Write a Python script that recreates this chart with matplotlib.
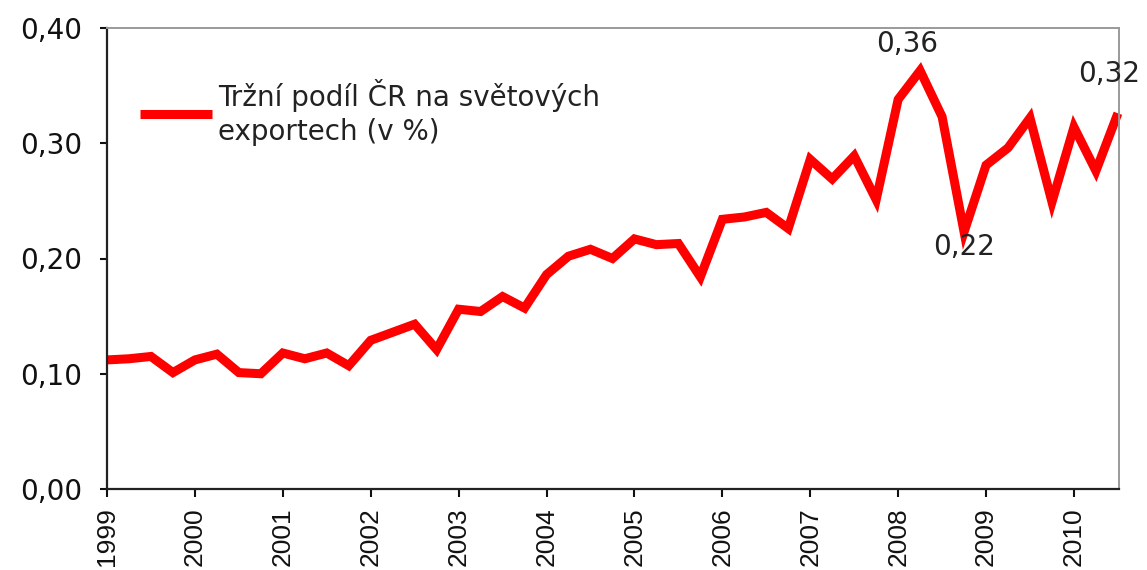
import matplotlib
matplotlib.use("Agg")
import matplotlib.pyplot as plt

# quarterly market share of CZ in world exports (%), 1999Q1 - 2010Q3
share = [0.112, 0.113, 0.115, 0.101, 0.112, 0.117, 0.101, 0.100,
         0.118, 0.113, 0.118, 0.107, 0.129, 0.136, 0.143, 0.121,
         0.156, 0.154, 0.167, 0.157, 0.186, 0.202, 0.208, 0.200,
         0.217, 0.212, 0.213, 0.184, 0.234, 0.236, 0.240, 0.226,
         0.286, 0.269, 0.289, 0.251, 0.338, 0.363, 0.323, 0.223,
         0.281, 0.296, 0.322, 0.249, 0.314, 0.276, 0.326]
years = ["1999", "2000", "2001", "2002", "2003", "2004",
         "2005", "2006", "2007", "2008", "2009", "2010"]
y_ticks = [0.0, 0.1, 0.2, 0.3, 0.4]
y_labels = ["0,00", "0,10", "0,20", "0,30", "0,40"]
series_name = "Tržní podíl ČR na světových\nexportech (v %)"

# labelled points: (index, text, offset in points)
labels = [(37, "0,36", (-9, 19)), (39, "0,22", (0, -11)), (46, "0,32", (-6, 28))]

plt.rcParams["font.family"] = ["DejaVu Sans"]
fs = 20

fig = plt.figure(figsize=(11.47, 5.70), dpi=100)
ax = fig.add_axes([107 / 1147, 1 - 489 / 570, 1012 / 1147, 461 / 570])

x = list(range(len(share)))
ax.plot(x, share, color="#ff0000", lw=6.5, solid_joinstyle="miter",
        solid_capstyle="butt", label=series_name, clip_on=False)

for i, txt, off in labels:
    ax.annotate(txt, (x[i], share[i]), xytext=off, textcoords="offset points",
                ha="center", va="center", fontsize=fs, color="#222222",
                annotation_clip=False)

ax.set_xlim(0, 46.05)
ax.set_ylim(0, 0.4)
ax.set_xticks(range(0, 4 * len(years), 4))
ax.set_xticklabels(years, rotation=90, fontsize=19, family="Liberation Sans")
ax.set_yticks(y_ticks)
ax.set_yticklabels(y_labels, fontsize=fs)
ax.tick_params(axis="x", length=6, width=1.5, pad=7, colors="#111111")
ax.tick_params(axis="y", length=5, width=1.5, pad=13, colors="#111111")

for s in ["left", "bottom"]:
    ax.spines[s].set_color("#222222")
    ax.spines[s].set_linewidth(1.6)
for s in ["top", "right"]:
    ax.spines[s].set_color("#9a9a9a")
    ax.spines[s].set_linewidth(1.4)

leg = ax.legend(loc="upper left", bbox_to_anchor=(0.0326, 0.89), frameon=False,
                fontsize=fs, handlelength=2.6, handletextpad=0.2,
                borderpad=0, borderaxespad=0)
leg.get_texts()[0].set_linespacing(1.3)
leg.get_texts()[0].set_color("#222222")
# put the key next to the first line of the label
for row in leg._legend_handle_box.get_children():
    row.align = "top"

fig.savefig("out.png", dpi=100)
